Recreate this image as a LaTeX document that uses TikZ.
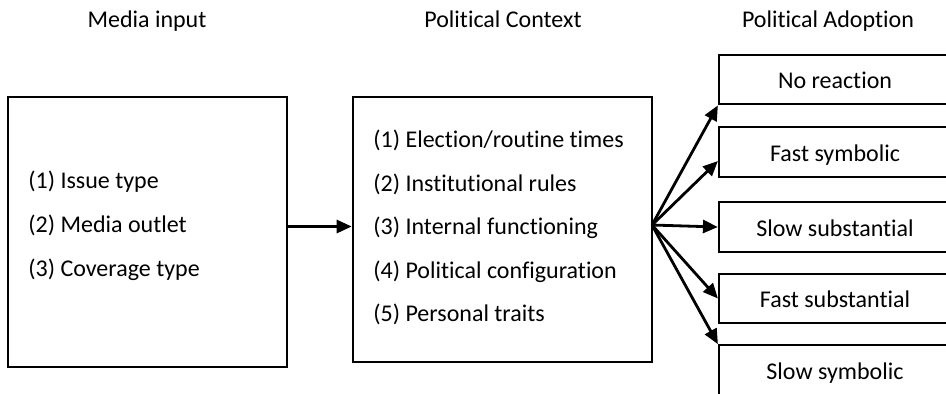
\documentclass[tikz,border=0pt]{standalone}
\usepackage{fontspec}
\setmainfont{Carlito}[Ligatures=NoCommon]
\usetikzlibrary{arrows.meta}
\tikzset{
 box/.style={draw,line width=1.3pt,inner sep=0pt},
 outcome/.style={draw,line width=1.1pt,minimum width=116pt,minimum height=24.75pt,text height=10.5pt,text depth=1.5pt,font=\fontsize{12}{14}\selectfont},
 title/.style={anchor=base,font=\fontsize{12}{14}\selectfont},
 mlist/.style={align=left,inner sep=0pt,font=\fontsize{12}{22}\selectfont},
 clist/.style={align=left,inner sep=0pt,font=\fontsize{12}{21.75}\selectfont},
 arr/.style={line width=1.4pt,-{Triangle[length=7.5pt,width=6.5pt]}}
}
\begin{document}
\begin{tikzpicture}[x=0.5pt,y=-0.5pt]
 \useasboundingbox (0,0) rectangle (946,393);
 \clip (0,0) rectangle (946,393);
 % titles
 \node[title] (tmedia) at (147,27) {Media input};
 \node[title] (tcontext) at (503,27) {Political Context};
 \node[title] (tadopt) at (828,27) {Political Adoption};
 % media box
 \node[box,minimum width=139.5pt,minimum height=135pt] (media) at (147.5,232) {};
 \node[mlist,anchor=west] (mediatext) at (28,226) {(1) Issue type\\(2) Media outlet\\(3) Coverage type};
 % context box
 \node[box,minimum width=149.5pt,minimum height=132.5pt] (context) at (502.5,229.5) {};
 \node[clist,anchor=west] (contexttext) at (373,227.5) {(1) Election/routine times\\(2) Institutional rules\\(3) Internal functioning\\(4) Political configuration\\(5) Personal traits};
 \coordinate (fork) at (652,225);
 % adoption boxes
 \node[outcome] (none) at (835,79.5) {No reaction};
 \node[outcome] (fastsym) at (835,152) {Fast symbolic};
 \node[outcome] (slowsub) at (835,227) {Slow substantial};
 \node[outcome] (fastsub) at (835,298.5) {Fast substantial};
 \node[outcome] (slowsym) at (835,370) {Slow symbolic};
 % arrows
 \draw[arr] (media.east |- 0,226.5) -- (context.west |- 0,226.5);
 \draw[arr] (fork) -- (none.south west);
 \draw[arr] (fork) -- ([yshift=-4.5pt]fastsym.west);
 \draw[arr] (fork) -- (slowsub.west);
 \draw[arr] (fork) -- (fastsub.west);
 \draw[arr] (fork) -- (slowsym.north west);
\end{tikzpicture}
\end{document}
